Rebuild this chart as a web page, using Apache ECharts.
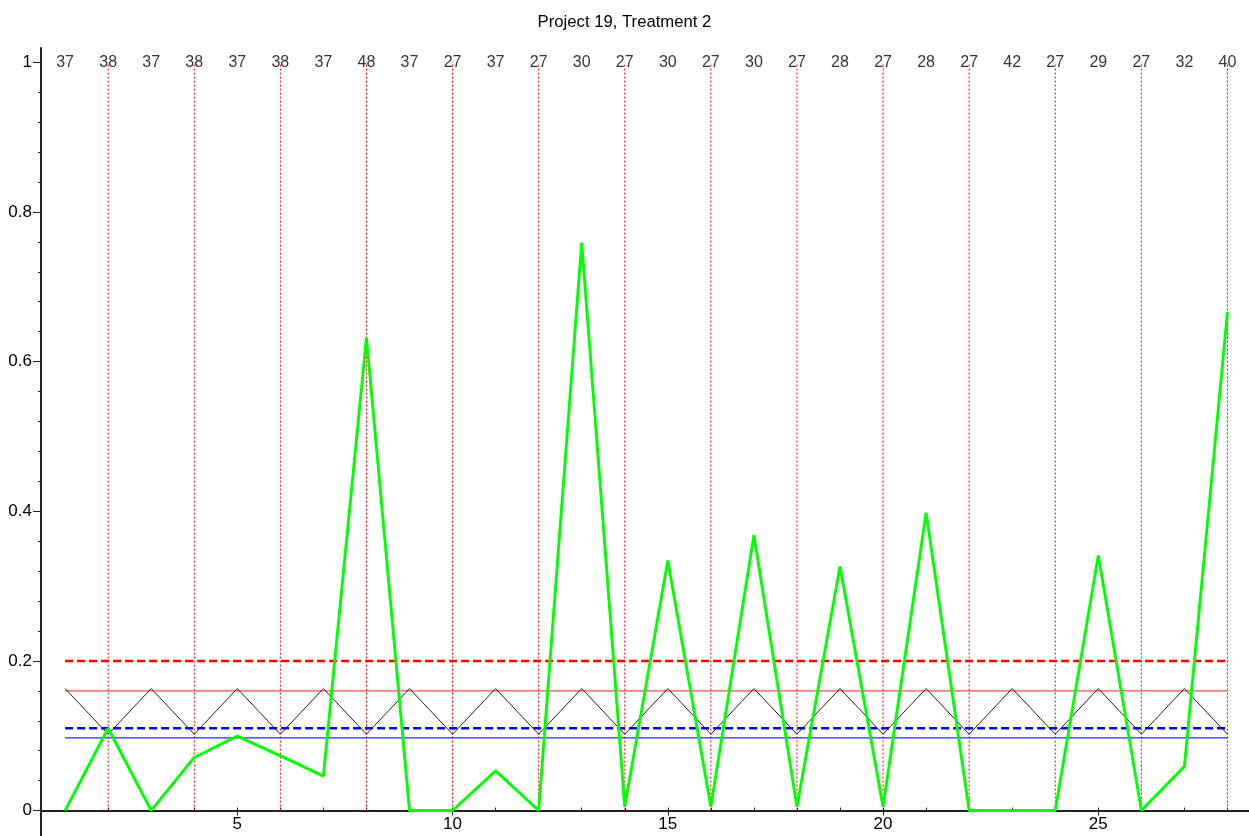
<!DOCTYPE html>
<html>
<head>
<meta charset="utf-8">
<script src="https://cdn.jsdelivr.net/npm/echarts@6/dist/echarts.min.js"></script>
<style>
html,body{margin:0;padding:0;background:#fff;}
#chart{width:1249px;height:836px;}
</style>
</head>
<body>
<div id="chart"></div>
<script>
// ---- data ----
const titleText = 'Project 19, Treatment 2';
const xValues = [1,2,3,4,5,6,7,8,9,10,11,12,13,14,15,16,17,18,19,20,21,22,23,24,25,26,27,28];
const topLabels = [37,38,37,38,37,38,37,48,37,27,37,27,30,27,30,27,30,27,28,27,28,27,42,27,29,27,32,40];
const greenValues = [0,0.110,0,0.071,0.0995,0.073,0.046,0.632,0,0,0.053,0,0.759,0.005,0.334,0.005,0.368,0.005,0.326,0.005,0.398,0,0,0,0.341,0,0.059,0.666];
const blackValues = [0.163,0.102,0.163,0.102,0.163,0.102,0.163,0.102,0.163,0.102,0.163,0.102,0.163,0.102,0.163,0.102,0.163,0.102,0.163,0.102,0.163,0.102,0.163,0.102,0.163,0.102,0.163,0.102];
const verticalXs = [2,4,6,8,10,12,14,16,18,20,22,24,26,28];
const redDashedLevel = 0.2;
const redSolidLevel = 0.16;
const blueDashedLevel = 0.110;
const blueSolidLevel = 0.097;
const xTickLabels = [5,10,15,20,25];
const yTickLabels = [0,0.2,0.4,0.6,0.8,1];
const yMinorTicks = [0,0.04,0.08,0.12,0.16,0.2,0.24,0.28,0.32,0.36,0.4,0.44,0.48,0.52,0.56,0.6,0.64,0.68,0.72,0.76,0.8,0.84,0.88,0.92,0.96,1];

// ---- chart ----
const FONT = "'Liberation Sans', Arial, sans-serif";
const AXIS_COLOR = '#222';
const chart = echarts.init(document.getElementById('chart'), null, {renderer:'canvas'});

const xMin = 0.44, xMax = 28.5, yMin = -0.034, yMax = 1.019;
const GRID_TOP = 48, GRID_BOTTOM = 0, H = 836;
// distance from grid bottom edge up to the y=0 line (for the label axis)
const zeroOffset = -((0 - yMin) / (yMax - yMin)) * (H - GRID_TOP - GRID_BOTTOM);
const hLine = (v) => [[xValues[0], v],[xValues[xValues.length-1], v]];

const verticalSeries = verticalXs.map(x => ({
  type: 'line', data: [[x, 0],[x, 1]], symbol: 'none', silent: true, z: 1,
  lineStyle: {color: '#ff0000', width: 1, type: [2,2]}
}));

const option = {
  animation: false,
  backgroundColor: '#fff',
  title: {
    text: titleText, left: 'center', top: 9,
    textStyle: {fontFamily: FONT, fontSize: 16.7, fontWeight: 'normal', color: '#000'}
  },
  grid: {left: 41, right: 0, top: GRID_TOP, bottom: GRID_BOTTOM, outerBoundsMode: 'none', containLabel: false},
  xAxis: [
    {
      type: 'value', min: xMin, max: xMax, position: 'bottom',
      axisLine: {show: true, onZero: true, lineStyle: {color: AXIS_COLOR, width: 2}},
      axisTick: {show: true, inside: true, length: 3, customValues: xValues, lineStyle: {color: AXIS_COLOR, width: 1}},
      axisLabel: {show: false},
      splitLine: {show: false}
    },
    {
      type: 'value', min: xMin, max: xMax, position: 'bottom', offset: zeroOffset,
      axisLine: {show: false, onZero: false},
      axisTick: {show: true, inside: false, length: 5, customValues: xTickLabels, lineStyle: {color: AXIS_COLOR, width: 1}},
      axisLabel: {show: true, customValues: xTickLabels, hideOverlap: false, fontFamily: FONT, fontSize: 17, color: '#000', margin: 5},
      splitLine: {show: false}
    }
  ],
  yAxis: [
    {
      type: 'value', min: yMin, max: yMax, position: 'left',
      axisLine: {show: true, onZero: false, lineStyle: {color: AXIS_COLOR, width: 2}},
      axisTick: {show: true, inside: false, length: 8, customValues: yTickLabels, lineStyle: {color: AXIS_COLOR, width: 1}},
      axisLabel: {show: true, customValues: yTickLabels, fontFamily: FONT, fontSize: 17, color: '#000', margin: 9,
        formatter: (v) => String(Math.round(v*10)/10)},
      splitLine: {show: false}
    },
    {
      type: 'value', min: yMin, max: yMax, position: 'left',
      axisLine: {show: false, onZero: false},
      axisTick: {show: true, inside: false, length: 3, customValues: yMinorTicks, lineStyle: {color: AXIS_COLOR, width: 1}},
      axisLabel: {show: false},
      splitLine: {show: false}
    }
  ],
  series: verticalSeries.concat([
    {type: 'line', data: hLine(redDashedLevel), symbol: 'none', silent: true, z: 2,
      lineStyle: {color: '#ff0000', width: 2.5, type: [8,4]}},
    {type: 'line', data: hLine(redSolidLevel), symbol: 'none', silent: true, z: 2,
      lineStyle: {color: '#ff4a4a', width: 1.3}},
    {type: 'line', data: hLine(blueDashedLevel), symbol: 'none', silent: true, z: 2,
      lineStyle: {color: '#0000ff', width: 2.5, type: [8,4]}},
    {type: 'line', data: hLine(blueSolidLevel), symbol: 'none', silent: true, z: 2,
      lineStyle: {color: '#2828ff', width: 1.3}},
    {type: 'line', data: xValues.map((x,i) => [x, blackValues[i]]), symbol: 'none', silent: true, z: 3,
      lineStyle: {color: '#222', width: 1}},
    {type: 'line', data: xValues.map((x,i) => [x, greenValues[i]]), symbol: 'none', silent: true, z: 4,
      lineStyle: {color: '#00ff00', width: 2.9, join: 'bevel'}},
    {type: 'scatter', data: xValues.map((x,i) => [x, 1, topLabels[i]]), symbolSize: 1, silent: true, z: 5,
      itemStyle: {color: 'rgba(0,0,0,0)'},
      label: {show: true, position: 'inside', formatter: (p) => String(p.value[2]),
        fontFamily: FONT, fontSize: 16, color: '#000'}}
  ])
};
chart.setOption(option);
</script>
</body>
</html>
